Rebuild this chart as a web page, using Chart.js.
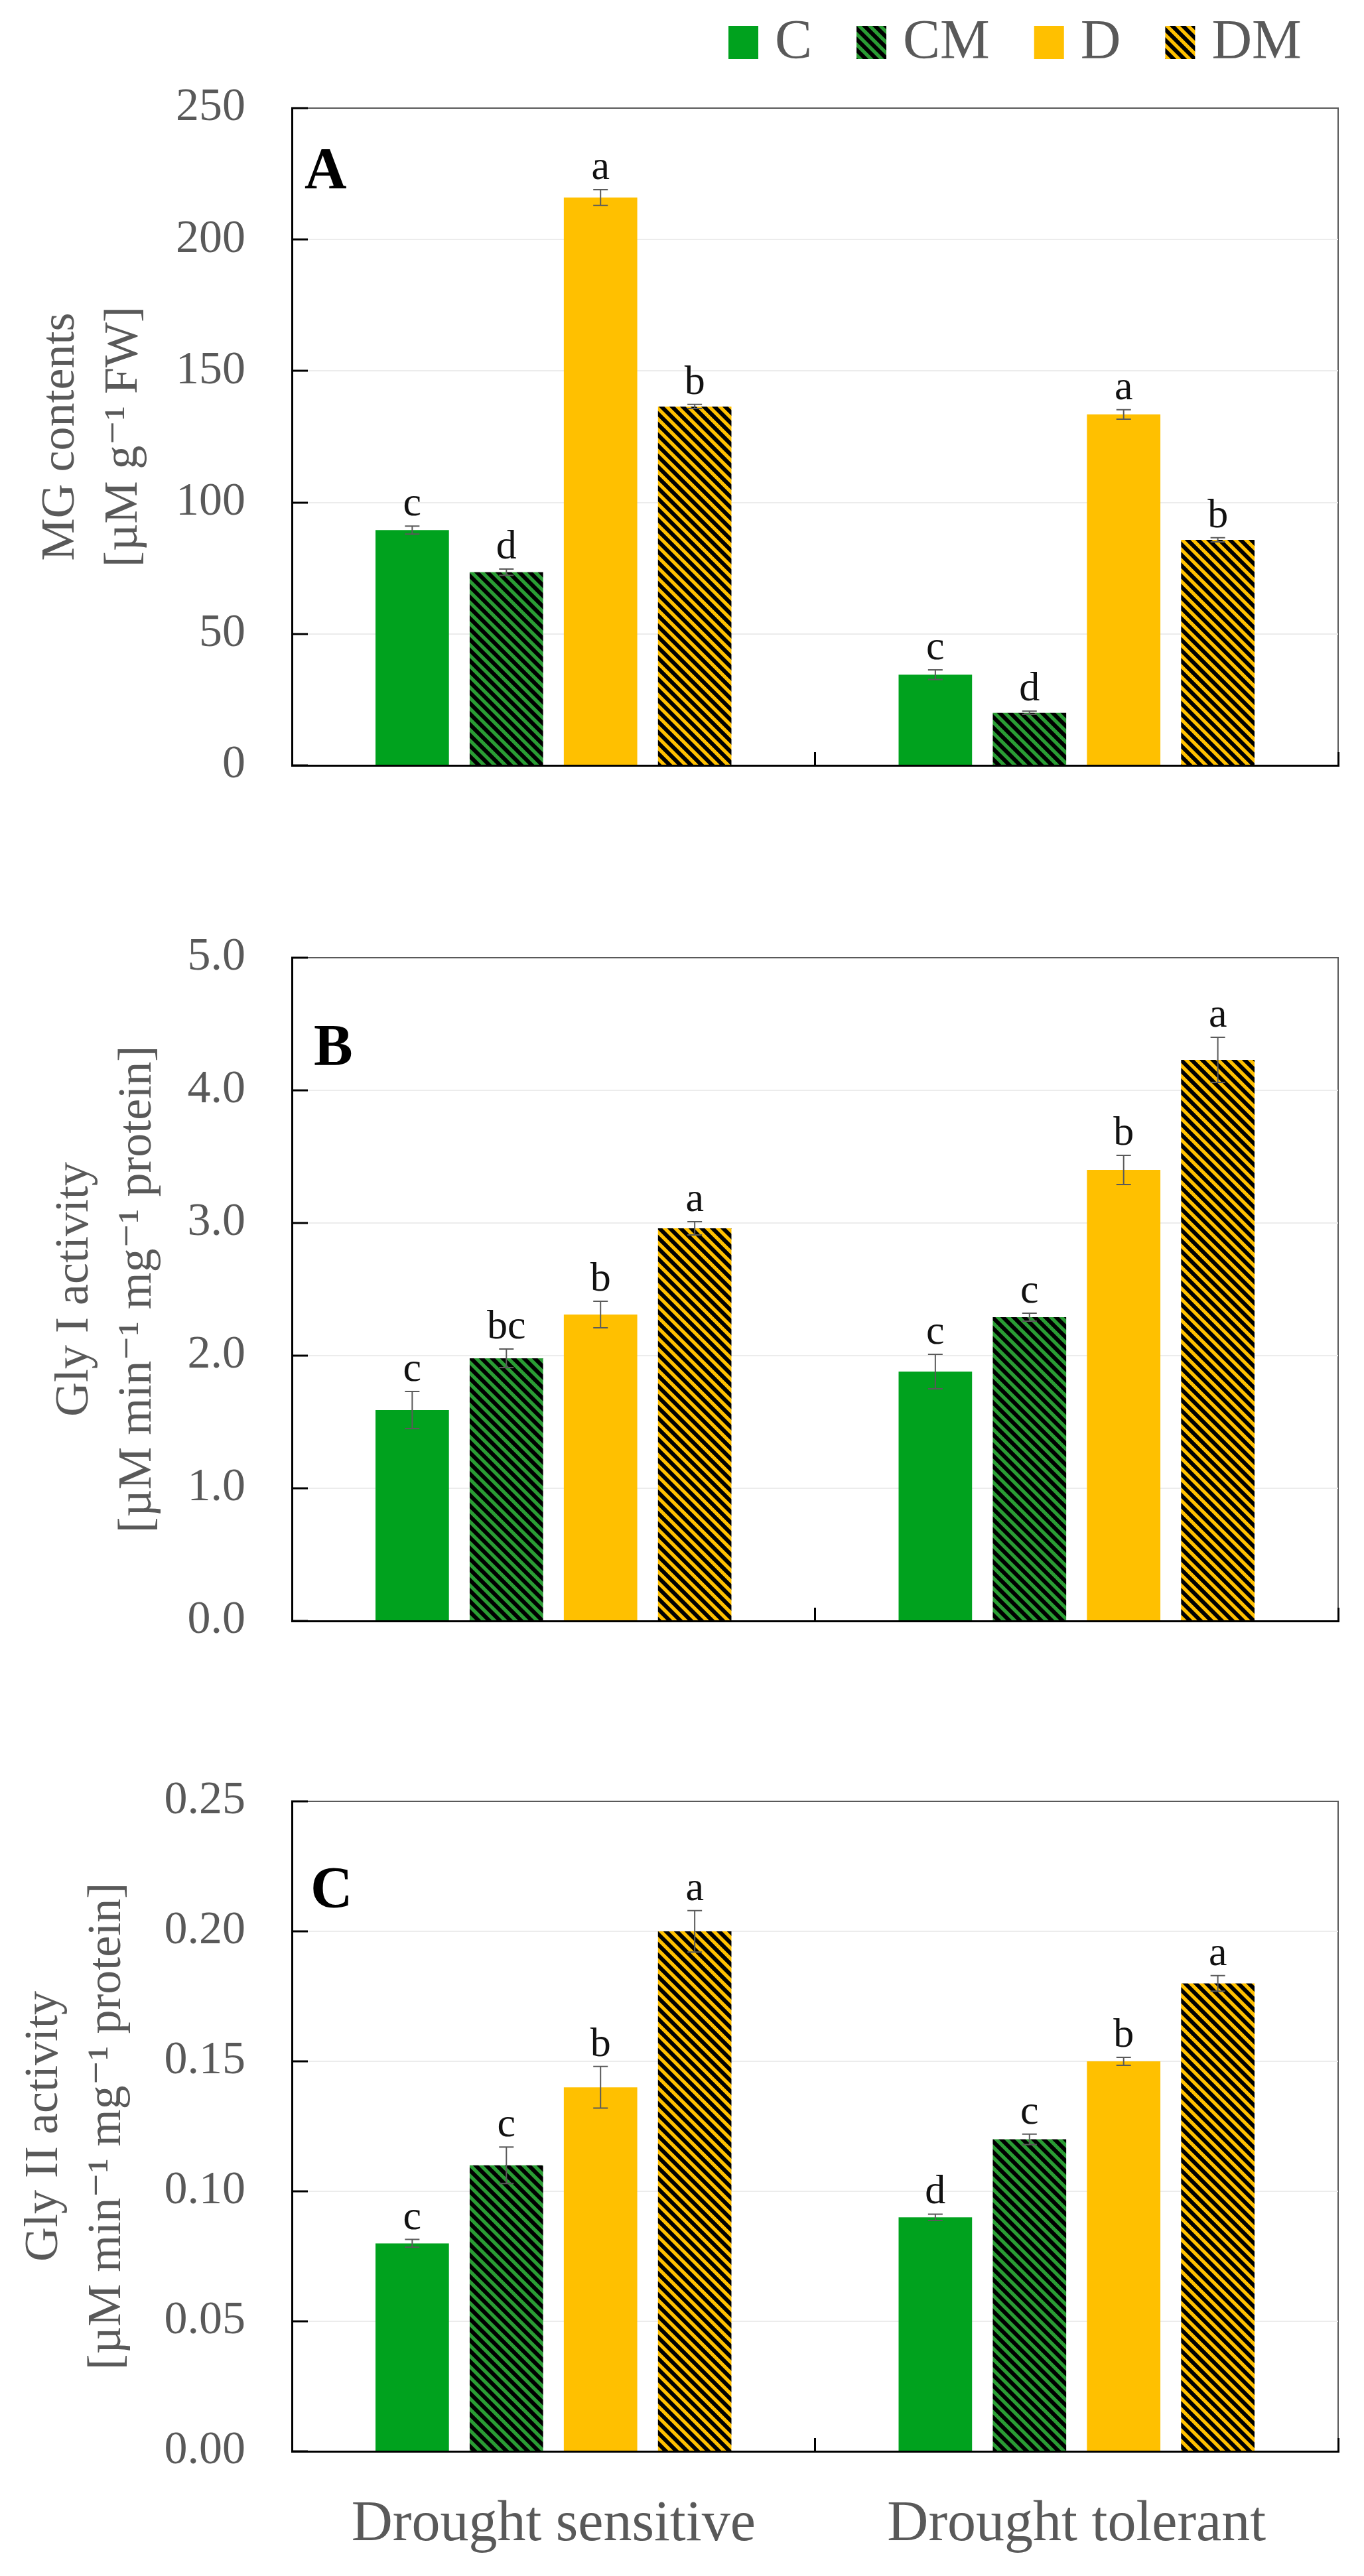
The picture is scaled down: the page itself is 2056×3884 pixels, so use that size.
<!DOCTYPE html>
<html>
<head>
<meta charset="utf-8">
<script src="https://cdn.jsdelivr.net/npm/chart.js@4.4.0/dist/chart.umd.min.js"></script>
<style>
  body { margin: 0; background: #fff; }
  #wrap { position: relative; width: 2056px; height: 3884px; background: #fff; }
  canvas { position: absolute; left: 0; }
</style>
</head>
<body>
<div id="wrap">
  <canvas id="chartA" width="2056" height="1290" style="top:0px;width:2056px;height:1290px"></canvas>
  <canvas id="chartB" width="2056" height="1290" style="top:1290px;width:2056px;height:1290px"></canvas>
  <canvas id="chartC" width="2056" height="1304" style="top:2580px;width:2056px;height:1304px"></canvas>
</div>
<script>
// categories and treatments
const groups = ["Drought sensitive", "Drought tolerant"];
const treatments = ["C", "CM", "D", "DM"];

// A: MG contents, one row per treatment (C, CM, D, DM), [sensitive, tolerant]
const mgValues = [[89.5, 34.5], [73.5, 20.0], [216, 133.5], [136.5, 85.8]];
const mgErrors = [[1.5, 1.8], [1.2, 0.6], [3.0, 1.8], [0.8, 0.8]];
const mgLetters = [["c", "c"], ["d", "d"], ["a", "a"], ["b", "b"]];
const mgTicks = [0, 50, 100, 150, 200, 250];

// B: Gly I activity
const glyIValues = [[1.59, 1.88], [1.98, 2.29], [2.31, 3.40], [2.96, 4.23]];
const glyIErrors = [[0.14, 0.13], [0.07, 0.03], [0.10, 0.11], [0.05, 0.17]];
const glyILetters = [["c", "c"], ["bc", "c"], ["b", "b"], ["a", "a"]];
const glyITicks = [0, 1, 2, 3, 4, 5];

// C: Gly II activity
const glyIIValues = [[0.080, 0.090], [0.110, 0.120], [0.140, 0.150], [0.200, 0.180]];
const glyIIErrors = [[0.0015, 0.0012], [0.007, 0.002], [0.008, 0.0015], [0.008, 0.003]];
const glyIILetters = [["c", "d"], ["c", "c"], ["b", "b"], ["a", "a"]];
const glyIITicks = [0, 0.05, 0.10, 0.15, 0.20, 0.25];

const baseColors = ["#00A21E", "#2A9C34", "#FFC000", "#FFC000"];
const striped = [false, true, false, true];
const FONT = '"Liberation Serif", "DejaVu Serif", serif';
const GREY = "#595959";

// diagonal stripes like the Excel hatch fill
function stripes(ctx, base) {
  const s = 16;
  const tile = document.createElement("canvas");
  tile.width = s; tile.height = s;
  const g = tile.getContext("2d");
  g.fillStyle = base;
  g.fillRect(0, 0, s, s);
  g.strokeStyle = "#000";
  g.lineWidth = 6;
  g.beginPath();
  for (const k of [-s, 0, s]) {
    g.moveTo(-s, -s + k);
    g.lineTo(2 * s, 2 * s + k);
  }
  g.stroke();
  return ctx.createPattern(tile, "repeat");
}

function makeDatasets(ctx, values) {
  return treatments.map((t, i) => ({
    label: t,
    data: values[i],
    backgroundColor: striped[i] ? stripes(ctx, baseColors[i]) : baseColors[i],
    borderWidth: 0,
    categoryPercentage: 0.72,
    barPercentage: 0.78,
  }));
}

// top and right frame lines (grey)
const framePlugin = {
  id: "frame",
  beforeDraw(chart) {
    const { ctx, chartArea } = chart;
    ctx.save();
    ctx.strokeStyle = GREY;
    ctx.lineWidth = 2;
    ctx.beginPath();
    ctx.moveTo(chartArea.left, chartArea.top);
    ctx.lineTo(chartArea.right, chartArea.top);
    ctx.lineTo(chartArea.right, chartArea.bottom);
    ctx.stroke();
    ctx.restore();
  },
};

// error bars + significance letters
function errorBars(errors, letters) {
  return {
    id: "errorBars",
    afterDatasetsDraw(chart) {
      const { ctx } = chart;
      const y = chart.scales.y;
      ctx.save();
      chart.data.datasets.forEach((ds, i) => {
        const meta = chart.getDatasetMeta(i);
        meta.data.forEach((bar, j) => {
          const v = ds.data[j];
          const e = errors[i][j];
          const top = y.getPixelForValue(v + e);
          const bot = y.getPixelForValue(v - e);
          ctx.strokeStyle = "#5a5a5a";
          ctx.lineWidth = 2;
          ctx.beginPath();
          ctx.moveTo(bar.x, top); ctx.lineTo(bar.x, bot);
          ctx.moveTo(bar.x - 11, top); ctx.lineTo(bar.x + 11, top);
          ctx.moveTo(bar.x - 11, bot); ctx.lineTo(bar.x + 11, bot);
          ctx.stroke();
          ctx.fillStyle = "#111";
          ctx.font = "62px " + FONT;
          ctx.textAlign = "center";
          ctx.textBaseline = "alphabetic";
          ctx.fillText(letters[i][j], bar.x, top - 16);
        });
      });
      ctx.restore();
    },
  };
}

// panel letter (A, B, C)
function panelLetter(text, dx, dy) {
  return {
    id: "panelLetter",
    afterDraw(chart) {
      const { ctx, chartArea } = chart;
      ctx.save();
      ctx.fillStyle = "#000";
      ctx.font = "bold 88px " + FONT;
      ctx.textAlign = "left";
      ctx.textBaseline = "alphabetic";
      ctx.fillText(text, chartArea.left + dx, chartArea.top + dy);
      ctx.restore();
    },
  };
}

// legend row on top of panel A
const legendPlugin = {
  id: "topLegend",
  afterDraw(chart) {
    const { ctx } = chart;
    ctx.save();
    ctx.font = "84px " + FONT;
    ctx.textBaseline = "alphabetic";
    ctx.textAlign = "left";
    let x = 1098;
    chart.data.datasets.forEach((ds) => {
      ctx.fillStyle = ds.backgroundColor;
      ctx.fillRect(x, 39, 45, 50);
      x += 45 + 25;
      ctx.fillStyle = GREY;
      ctx.fillText(ds.label, x, 88);
      x += ctx.measureText(ds.label).width + 67;
    });
    ctx.restore();
  },
};

function yScale(tickVals, decimals, titleLines, titlePad) {
  const max = tickVals[tickVals.length - 1];
  return {
    min: tickVals[0],
    max: max,
    afterBuildTicks: (s) => { s.ticks = tickVals.map((v) => ({ value: v })); },
    ticks: {
      callback: (v) => Number(v).toFixed(decimals),
      font: { family: FONT, size: 70 },
      color: GREY,
      padding: 94,
    },
    grid: {
      color: (c) => (c.tick && Math.abs(c.tick.value - max) < 1e-9) ? "rgba(0,0,0,0)" : "#ececec",
      lineWidth: 2,
      drawTicks: true,
      tickLength: -24,
      tickColor: "#000",
      tickWidth: 3,
    },
    border: { color: "#000", width: 3 },
    title: {
      display: true,
      text: titleLines,
      color: GREY,
      font: { family: FONT, size: 72, lineHeight: 1.32 },
      padding: { top: titlePad, bottom: 0 },
    },
    afterFit: (s) => { s.width = 440; },
  };
}

function xScale(showLabels, height) {
  return {
    offset: true,
    grid: {
      offset: true,
      drawOnChartArea: false,
      drawTicks: true,
      tickLength: -20,
      tickColor: "#000",
      tickWidth: 3,
    },
    border: { color: "#000", width: 3 },
    ticks: {
      display: showLabels,
      font: { family: FONT, size: 86 },
      color: GREY,
      padding: 80,
    },
    afterFit: (s) => { s.height = height; },
  };
}

function makeChart(id, cfg) {
  const ctx = document.getElementById(id).getContext("2d");
  const plugins = [framePlugin, errorBars(cfg.errors, cfg.letters), panelLetter(cfg.letter, cfg.letterDx, cfg.letterDy)];
  if (cfg.legend) plugins.push(legendPlugin);
  return new Chart(ctx, {
    type: "bar",
    data: { labels: groups, datasets: makeDatasets(ctx, cfg.values) },
    options: {
      responsive: false,
      animation: false,
      devicePixelRatio: 1,
      layout: { padding: { top: cfg.padTop, right: 39, left: 0, bottom: 0 } },
      plugins: { legend: { display: false }, tooltip: { enabled: false } },
      scales: {
        x: xScale(cfg.showLabels, cfg.xHeight),
        y: yScale(cfg.ticks, cfg.decimals, cfg.title, cfg.titlePad),
      },
    },
    plugins: plugins,
  });
}

makeChart("chartA", {
  values: mgValues, errors: mgErrors, letters: mgLetters, ticks: mgTicks, decimals: 0,
  title: ["MG contents", "[\u00B5M g\u207B\u00B9 FW]"], titlePad: 45,
  letter: "A", letterDx: 19, letterDy: 120,
  padTop: 163, xHeight: 56, showLabels: false, legend: true,
});

makeChart("chartB", {
  values: glyIValues, errors: glyIErrors, letters: glyILetters, ticks: glyITicks, decimals: 1,
  title: ["Gly I activity", "[\u00B5M min\u207B\u00B9 mg\u207B\u00B9 protein]"], titlePad: 66,
  letter: "B", letterDx: 33, letterDy: 161,
  padTop: 154, xHeight: 68, showLabels: false, legend: false,
});

makeChart("chartC", {
  values: glyIIValues, errors: glyIIErrors, letters: glyIILetters, ticks: glyIITicks, decimals: 2,
  title: ["Gly II activity", "[\u00B5M min\u207B\u00B9 mg\u207B\u00B9 protein]"], titlePad: 20,
  letter: "C", letterDx: 28, letterDy: 159,
  padTop: 63, xHeight: 188, showLabels: true, legend: false,
});
</script>
</body>
</html>
